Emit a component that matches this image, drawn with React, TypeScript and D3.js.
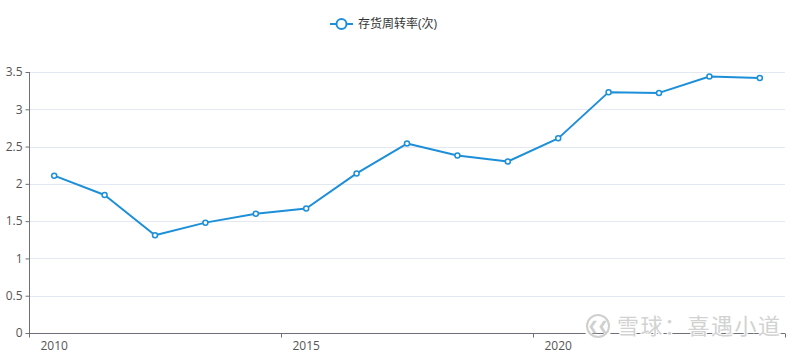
import React, { useEffect, useRef } from 'react';
import * as d3 from 'd3';

const W = 800;
const H = 354;

const margin = { top: 72, left: 29, right: 15, bottom: 21 };

const years = [
  '2010', '2011', '2012', '2013', '2014', '2015', '2016', '2017',
  '2018', '2019', '2020', '2021', '2022', '2023', '2024',
];
const turnover = [
  2.11, 1.85, 1.31, 1.48, 1.60, 1.67, 2.14, 2.54, 2.38, 2.30, 2.61, 3.23, 3.22, 3.44, 3.42,
];
const yTicks = [0, 0.5, 1, 1.5, 2, 2.5, 3, 3.5];
const xLabels = ['2010', '2015', '2020'];
const seriesName = '存货周转率(次)';
const watermark = '雪球：喜遇小道';

const lineColor = '#1d8fd8';
const font = '"Open Sans", "Noto Sans CJK SC", sans-serif';

const drawChart = (container: SVGSVGElement) => {
  const svg = d3.select(container);
  svg.selectAll('*').remove();

  const innerW = W - margin.left - margin.right;
  const innerH = H - margin.top - margin.bottom;

  const x = d3.scaleBand().domain(years).range([0, innerW]).padding(0);
  const y = d3.scaleLinear().domain([0, 3.5]).range([innerH, 0]);

  const g = svg.append('g').attr('transform', `translate(${margin.left},${margin.top})`);

  // grid
  g.append('g')
    .selectAll('line')
    .data(yTicks.filter((t) => t > 0))
    .enter()
    .append('line')
    .attr('x1', 0)
    .attr('x2', innerW)
    .attr('y1', (d) => Math.round(y(d)) + 0.5)
    .attr('y2', (d) => Math.round(y(d)) + 0.5)
    .attr('stroke', '#e3e8f2')
    .attr('stroke-width', 1);

  // y axis
  const yAxis = g
    .append('g')
    .attr('transform', 'translate(0.5,0)')
    .call(d3.axisLeft(y).tickValues(yTicks).tickSize(4).tickPadding(3).tickFormat((d) => String(d)));
  yAxis.select('.domain').attr('stroke', '#6e7079').attr('d', `M0,0V${innerH}`);
  yAxis.selectAll('.tick line').attr('stroke', '#6e7079');
  yAxis.selectAll('.tick text').attr('fill', '#555').style('font-size', '12px').style('font-family', font);

  // x axis
  const step = x.step();
  const xAxis = g
    .append('g')
    .attr('transform', `translate(0,${innerH + 0.5})`)
    .call(d3.axisBottom(x).tickValues(xLabels).tickSize(0).tickPadding(8));
  xAxis.select('.domain').attr('stroke', '#6e7079').attr('d', `M0,0H${innerW}`);
  xAxis.selectAll('.tick text').attr('fill', '#555').style('font-size', '12px').style('font-family', font);

  // x ticks at band boundaries every 5 categories
  const boundaries = [0, 5, 10, 15];
  xAxis
    .selectAll('line.bt')
    .data(boundaries)
    .enter()
    .append('line')
    .attr('class', 'bt')
    .attr('x1', (d) => Math.round(d * step) + 0.5)
    .attr('x2', (d) => Math.round(d * step) + 0.5)
    .attr('y1', 0)
    .attr('y2', 4)
    .attr('stroke', '#6e7079');

  // line
  const cx = (_d: number, i: number) => (x(years[i]) ?? 0) + x.bandwidth() / 2;
  const line = d3
    .line<number>()
    .x((d, i) => cx(d, i))
    .y((d) => y(d));

  g.append('path')
    .datum(turnover)
    .attr('d', line)
    .attr('fill', 'none')
    .attr('stroke', lineColor)
    .attr('stroke-width', 2)
    .attr('stroke-linejoin', 'round');

  g.selectAll('circle.pt')
    .data(turnover)
    .enter()
    .append('circle')
    .attr('class', 'pt')
    .attr('cx', (d, i) => cx(d, i))
    .attr('cy', (d) => y(d))
    .attr('r', 2.5)
    .attr('fill', '#fff')
    .attr('stroke', lineColor)
    .attr('stroke-width', 1.5);

  // legend
  const lg = svg.append('g').attr('transform', 'translate(330,24)');
  lg.append('line').attr('x1', 0).attr('x2', 23).attr('y1', 0).attr('y2', 0).attr('stroke', lineColor).attr('stroke-width', 2);
  lg.append('circle').attr('cx', 11.5).attr('cy', 0).attr('r', 5).attr('fill', '#fff').attr('stroke', lineColor).attr('stroke-width', 2);
  lg.append('text')
    .attr('x', 28)
    .attr('y', 0)
    .attr('dy', '0.35em')
    .attr('fill', '#333')
    .style('font-size', '12px')
    .style('font-family', font)
    .text(seriesName);

  // watermark
  const wm = svg.append('g').attr('transform', 'translate(598,326)');
  wm.append('circle').attr('cx', 0).attr('cy', 0).attr('r', 12).attr('fill', 'none').attr('stroke', '#fff').attr('stroke-width', 5);
  wm.append('circle').attr('cx', 0).attr('cy', 0).attr('r', 11).attr('fill', 'none').attr('stroke', '#cfcfcf').attr('stroke-width', 2);
  wm.append('text')
    .attr('x', 0)
    .attr('y', 0)
    .attr('dy', '0.35em')
    .attr('text-anchor', 'middle')
    .attr('fill', '#cfcfcf')
    .style('font-size', '12px')
    .style('font-family', font)
    .style('font-weight', 'bold')
    .text('❮❮');
  wm.append('text')
    .attr('x', 19)
    .attr('y', 0)
    .attr('dy', '0.36em')
    .attr('fill', '#d2d2d2')
    .attr('stroke', '#fff')
    .attr('stroke-width', 2)
    .attr('paint-order', 'stroke')
    .style('letter-spacing', '1.5px')
    .style('font-size', '22px')
    .style('font-family', '"Noto Sans CJK SC", sans-serif')
    .text(watermark);
};

const App: React.FC = () => {
  const ref = useRef<SVGSVGElement>(null);

  useEffect(() => {
    if (ref.current) drawChart(ref.current);
  }, []);

  return (
    <svg
      ref={ref}
      width={W}
      height={H}
      style={{ position: 'absolute', left: 0, top: 0, background: '#fff' }}
    />
  );
};

export default App;
